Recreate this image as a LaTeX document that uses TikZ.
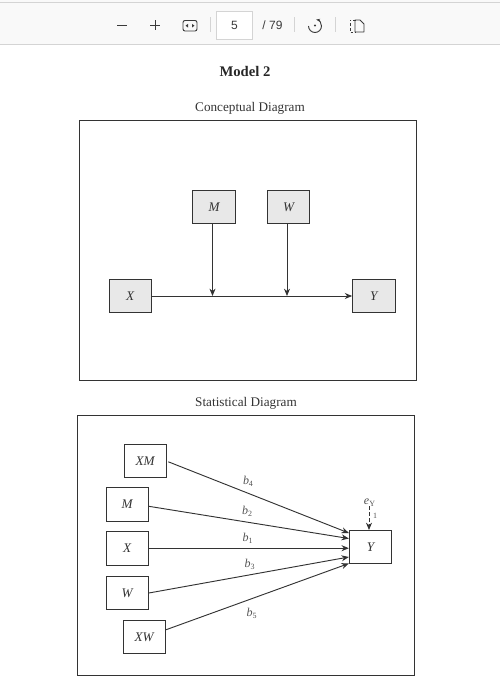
\documentclass[tikz,border=0pt]{standalone}
\usepackage{fontspec}
\setmainfont{Liberation Serif}
\newfontfamily\uifont{Liberation Sans}
\usetikzlibrary{arrows.meta, calc}
\definecolor{barbg}{HTML}{F9F9F9}
\definecolor{barline}{HTML}{D4D4D4}
\definecolor{barink}{HTML}{3A3A3A}
\definecolor{boxgrey}{HTML}{E8E8E8}
\definecolor{boxink}{HTML}{333333}
\newcommand{\subvar}[2]{\textit{#1}\raisebox{-0.25ex}{\fontsize{6pt}{7pt}\selectfont #2}}
\begin{document}
\begin{tikzpicture}[x=0.75pt, y=-0.75pt, font=\fontsize{9.9pt}{12pt}\selectfont,
    var/.style={rectangle, draw=boxink, line width=0.7pt, minimum width=31.8pt,
                minimum height=25.2pt, inner sep=0pt, text=boxink,
                font=\fontsize{9.9pt}{12pt}\selectfont\itshape},
    cvar/.style={var, fill=boxgrey},
    frame/.style={rectangle, draw=boxink, line width=0.6pt, minimum width=252.8pt,
                  minimum height=195pt, inner sep=0pt},
    path/.style={-{Stealth[length=5.5pt, width=4.5pt]}, boxink, line width=0.7pt},
    coef/.style={inner sep=0pt, text=boxink!85, font=\fontsize{9pt}{11pt}\selectfont},
    tool/.style={barink, line width=0.7pt}]
  \useasboundingbox (0,0) rectangle (500,687);
  % viewer toolbar
  \fill[barbg] (0,0) rectangle (500,44);
  \draw[barline, line width=0.6pt] (0,44) -- (500,44);
  \draw[barline, line width=0.6pt] (0,2.5) -- (500,2.5);
  \draw[tool] (117,25) -- (127,25);
  \draw[tool] (150,25) -- (160,25) (155,20) -- (155,30);
  \draw[tool, rounded corners=1.5pt] (183,20.5) rectangle (197,31);
  \foreach \tipx/\tipd in {185.5/1, 194.5/-1}
    \fill[barink] (\tipx,25.7) -- ++(2.5*\tipd,-1.8) -- ++(0,3.6) -- cycle;
  \foreach \sepx in {210.5, 294, 335.5}
    \draw[barline, line width=0.6pt] (\sepx,17) -- (\sepx,32);
  \node[draw=barline, fill=white, line width=0.6pt, minimum width=27.5pt, minimum height=21.5pt,
        inner sep=0pt, font=\uifont\fontsize{9pt}{10pt}\selectfont, text=barink] (pagebox) at (234.5,25.5) {5};
  \node[font=\uifont\fontsize{9pt}{10pt}\selectfont, text=barink, inner sep=0pt] (pagetotal) at (272.5,25.5) {/ 79};
  \draw[tool, -{Stealth[length=3pt]}] (308.5,26) arc[start angle=180, end angle=-80, radius=6.5];
  \fill[barink] (315,25.5) circle[radius=1.2];
  \draw[tool, dash pattern=on 2pt off 1.5pt] (356,20) -- (350,20) -- (350,32) -- (356,32);
  \draw[tool, line join=round] (355,20) -- (360,20) -- (364,24) -- (364,32) -- (355,32) -- cycle;
  % titles
  \node[font=\fontsize{11pt}{13pt}\selectfont\bfseries, text=black!85] (title) at (245,71) {Model 2};
  \node[text=boxink] (conceptlabel) at (250,108) {Conceptual Diagram};
  \node[text=boxink] (statlabel) at (246,403) {Statistical Diagram};
  % conceptual diagram
  \node[frame] (conceptframe) at (247.5,250.5) {};
  \node[cvar] (cM) at (214,207) {M};
  \node[cvar] (cW) at (288.7,207) {W};
  \node[cvar] (cX) at (130.2,296) {X};
  \node[cvar] (cY) at (373.8,296) {Y};
  \draw[path] (cX) -- (cY);
  \coordinate (jM) at (212.5,296);
  \coordinate (jW) at (287,296);
  \draw[path] (jM |- cM.south) -- (jM);
  \draw[path] (jW |- cW.south) -- (jW);
  % statistical diagram
  \node[frame] (statframe) at (246,545) {};
  \foreach \nm/\lbl/\xx/\yy in {sXM/XM/145.2/460.8, sM/M/127.2/504.3, sX/X/127.2/548.2,
                                sW/W/127.2/593, sXW/XW/144.2/636.8}
    \node[var] (\nm) at (\xx,\yy) {\lbl};
  \node[var] (sY) at (370.5,547) {Y};
  \draw[path] ($(sXM.east)+(1.5,1)$) -- ($(sY.west)+(0,-14)$);
  \draw[path] ($(sM.east)+(0,2)$) -- ($(sY.west)+(0,-8.5)$);
  \draw[path] (sX.east) -- (sX.east -| sY.west);
  \draw[path] (sW.east) -- ($(sY.west)+(0,10)$);
  \draw[path] ($(sXW.east)+(0,-7)$) -- ($(sY.west)+(0,16.5)$);
  \foreach \nm/\idx/\xx/\yy in {b4/4/248/481.5, b2/2/247/511.5, b1/1/247.5/538.5,
                                b3/3/249.5/564.5, b5/5/251.5/613.5}
    \node[coef] (\nm) at (\xx,\yy) {\subvar{b}{\idx}};
  \node[coef] (ey) at (369.5,502.5) {\subvar{e}{Y}};
  \node[coef, font=\fontsize{6pt}{7pt}\selectfont] (one) at (375,516) {1};
  \coordinate (eyin) at (369,530);
  \draw[path, dash pattern=on 2.5pt off 2pt] (eyin |- ey.south) -- (eyin);
\end{tikzpicture}
\end{document}
